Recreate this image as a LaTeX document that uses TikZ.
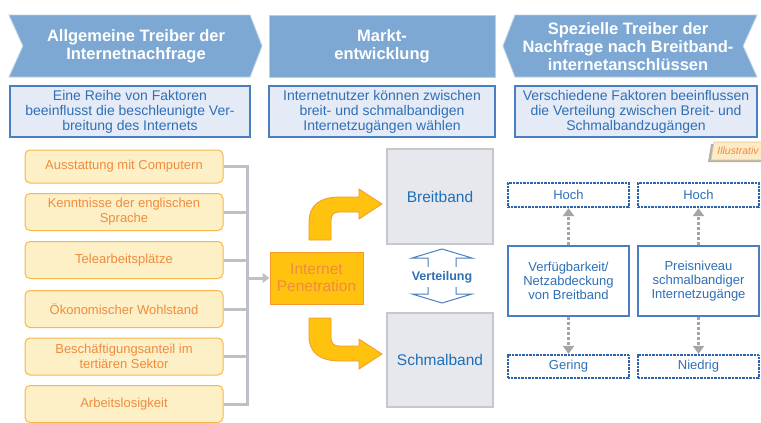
\documentclass[tikz,border=0pt]{standalone}
\usepackage{fontspec}
\setmainfont{Liberation Sans}
\usepackage{xcolor}
\definecolor{headblue}{HTML}{7CA8D3}
\definecolor{headline}{HTML}{B9CFE6}
\definecolor{descfill}{HTML}{E4EBF6}
\definecolor{descline}{HTML}{4A7EC2}
\definecolor{dotline}{HTML}{2F62AC}
\definecolor{desctext}{HTML}{2F6FB6}
\definecolor{factfill}{HTML}{FDEFC6}
\definecolor{factline}{HTML}{F8B74C}
\definecolor{facttext}{HTML}{F08C3E}
\definecolor{busgray}{HTML}{BDC1C7}
\definecolor{penfill}{HTML}{FFC20E}
\definecolor{penline}{HTML}{F39A2B}
\definecolor{bandfill}{HTML}{E7E8ED}
\definecolor{bandline}{HTML}{C5C7CB}
\definecolor{bandtext}{HTML}{1F70B8}
\definecolor{dashgray}{HTML}{A5A5A5}
\definecolor{tagfill}{HTML}{FDEAC6}
\definecolor{tagline}{HTML}{E2C48E}
\usetikzlibrary{arrows.meta, positioning, shapes, calc}

\begin{document}
\begin{tikzpicture}[x=1pt, y=-1pt,
    headtext/.style={text=white, font=\bfseries\fontsize{16.5}{18}\selectfont, align=center},
    desc/.style={draw=descline, line width=1.2pt, fill=descfill, text=desctext, align=center,
      minimum height=51pt, inner sep=0pt, font=\fontsize{14}{15}\selectfont},
    factor/.style={draw=factline, line width=1pt, fill=factfill, text=facttext, rounded corners=5pt,
      minimum width=198pt, minimum height=37pt, inner sep=0pt, align=center,
      font=\fontsize{13}{15}\selectfont},
    busline/.style={draw=busgray, line width=3pt},
    bandbox/.style={draw=bandline, line width=1.5pt, fill=bandfill, text=bandtext,
      minimum width=106pt, inner sep=0pt, font=\fontsize{15.5}{17}\selectfont},
    levelbox/.style={draw=dotline, line width=2.2pt, dash pattern=on 0.9pt off 0.5pt, text=desctext,
      minimum width=121pt, inner sep=0pt, font=\fontsize{13}{14}\selectfont},
    driverbox/.style={draw=descline, line width=1.4pt, fill=white, text=desctext, align=center,
      minimum width=121pt, minimum height=70pt, inner sep=0pt, font=\fontsize{13}{14}\selectfont},
    dasharrow/.style={draw=dashgray, line width=3pt, dash pattern=on 3pt off 2pt,
      -{Triangle[length=8pt,width=11pt,sep=0pt]}}]

  % canvas
  \useasboundingbox[fill=white] (0,0) rectangle (761,423);

  % Header chevrons
  \filldraw[fill=headblue, draw=headline, line width=0.8pt]
    (9,15) -- (250,15) -- (262,46) -- (250,77) -- (9,77) -- (23,46) -- cycle;
  \filldraw[fill=headblue, draw=headline, line width=0.8pt] (269,15) rectangle (495,77);
  \filldraw[fill=headblue, draw=headline, line width=0.8pt]
    (515,15) -- (757,15) -- (743,46) -- (757,77) -- (515,77) -- (503,46) -- cycle;
  \node[headtext] (hd1) at (136,46) {Allgemeine Treiber der\\Internetnachfrage};
  \node[headtext] (hd2) at (382,46) {Markt-\\entwicklung};
  \node[headtext] (hd3) at (628,47) {Spezielle Treiber der\\Nachfrage nach Breitband-\\internetanschlüssen};

  % Descriptions
  \node[desc, minimum width=240pt] (d1) at (130,111.5)
    {Eine Reihe von Faktoren\\beeinflusst die beschleunigte Ver-\\breitung des Internets};
  \node[desc, minimum width=226pt] (d2) at (382,111.5)
    {Internetnutzer können zwischen\\breit- und schmalbandigen\\Internetzugängen wählen};
  \node[desc, minimum width=242pt] (d3) at (636,111.5)
    {Verschiedene Faktoren beeinflussen\\die Verteilung zwischen Breit- und\\Schmalbandzugängen};

  % General drivers
  \node[factor, minimum height=33pt] (f1) at (124,166.5) {Ausstattung mit Computern};
  \node[factor] (f2) at (124,212) {Kenntnisse der englischen\\Sprache};
  \node[factor] (f3) at (124,260) {Telearbeitsplätze};
  \node[factor] (f4) at (124,309) {Ökonomischer Wohlstand};
  \node[factor] (f5) at (124,356.5) {Beschäftigungsanteil im\\tertiären Sektor};
  \node[factor] (f6) at (124,404) {Arbeitslosigkeit};

  % Internet penetration
  \node[draw=penline, line width=1pt, fill=penfill, text=facttext, align=center,
    minimum width=93pt, minimum height=52pt, inner sep=0pt,
    font=\fontsize{15.5}{17}\selectfont] (pen) at (316.5,278) {Internet\\Penetration};

  % Collecting bus
  \coordinate (bus) at (247,0);
  \draw[busline] (f1.east) -| (f6.east -| bus) -- (f6.east);
  \foreach \i in {2,...,5}
    \draw[busline] (f\i.east) -- (f\i.east -| bus);
  \draw[busline, -{Triangle[length=7pt,width=10pt,sep=0pt]}] (bus |- pen.west) -- (pen.west);

  % Curved arrows
  \filldraw[fill=penfill, draw=penline, line width=0.8pt]
    (309,240) -- (309,222) .. controls (309,205) and (320,197) .. (340,197) -- (359,197)
    -- (359,189) -- (382,204) -- (359,219) -- (359,212) -- (340,212)
    .. controls (333,212) and (331,215) .. (331,221) -- (331,240) -- cycle;
  \filldraw[fill=penfill, draw=penline, line width=0.8pt]
    (309,318) -- (309,336) .. controls (309,353) and (320,361) .. (340,361) -- (359,361)
    -- (359,369) -- (382,354) -- (359,339) -- (359,346) -- (340,346)
    .. controls (333,346) and (331,343) .. (331,337) -- (331,318) -- cycle;

  % Broadband / narrowband
  \node[bandbox, minimum height=95pt] (bb) at (440,196.5) {Breitband};
  \node[bandbox, minimum height=94pt] (sb) at (440,360) {Schmalband};

  % Distribution arrow
  \draw[descline, line width=1pt, line join=miter]
    (442,249) -- (472,258) -- (456,258) -- (456,294) -- (472,294) -- (442,303)
    -- (412,294) -- (428,294) -- (428,258) -- (412,258) -- cycle;
  \node[fill=white, text=desctext, inner sep=1pt, minimum height=20pt,
    font=\bfseries\fontsize{12.5}{14}\selectfont] (vt) at (442,277) {Verteilung};

  % Specific drivers
  \node[levelbox, minimum height=24pt] (h1) at (568.5,195) {Hoch};
  \node[levelbox, minimum height=24pt] (h2) at (698.5,195) {Hoch};
  \node[driverbox] (m1) at (568.5,281) {Verfügbarkeit/\\Netzabdeckung\\von Breitband};
  \node[driverbox] (m2) at (698.5,281) {Preisniveau\\schmalbandiger\\Internetzugänge};
  \node[levelbox, minimum height=23pt] (g1) at (568.5,366.5) {Gering};
  \node[levelbox, minimum height=23pt] (g2) at (698.5,366.5) {Niedrig};
  \draw[dasharrow] (m1.north) -- (h1.south);
  \draw[dasharrow] (m2.north) -- (h2.south);
  \draw[dasharrow] (m1.south) -- (g1.north);
  \draw[dasharrow] (m2.south) -- (g2.north);

  % Illustrativ tag
  \fill[black!30] (711,144) -- (761,144) -- (761,162) -- (708,162) -- cycle;
  \filldraw[fill=tagfill, draw=tagline, line width=0.6pt]
    (714,142) -- (762,142) -- (762,160) -- (711,160) -- cycle;
  \node[text=facttext, inner sep=0pt, font=\itshape\fontsize{10.4}{12}\selectfont] (tag) at (738,151) {Illustrativ};
\end{tikzpicture}
\end{document}
